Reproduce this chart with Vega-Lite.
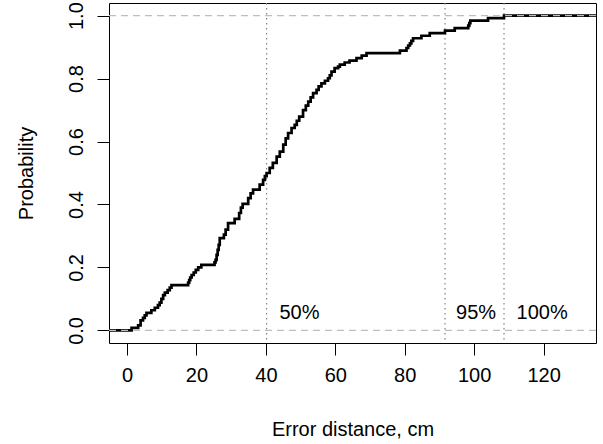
{
  "$schema": "https://vega.github.io/schema/vega-lite/v6.json",
  "width": 487,
  "height": 340,
  "autosize": {"type": "none"},
  "padding": {"left": 109, "top": 3, "right": 7, "bottom": 101},
  "background": "white",
  "config": {
    "view": {"stroke": "black", "strokeWidth": 1},
    "font": "Liberation Sans",
    "axis": {
      "grid": false,
      "domain": false,
      "tickColor": "black",
      "tickSize": 12,
      "tickWidth": 1,
      "labelColor": "black",
      "labelFontSize": 20,
      "labelFont": "Liberation Sans",
      "titleFont": "Liberation Sans",
      "titleFontSize": 20,
      "titleFontWeight": "normal",
      "titleColor": "black",
      "labelFlush": false,
      "labelOverlap": false
    }
  },
  "datasets": {
    "ecdf": [
      {"d": -10, "p": 0},
      {"d": 1.3, "p": 0.008},
      {"d": 3.2, "p": 0.016},
      {"d": 3.9, "p": 0.032},
      {"d": 4.6, "p": 0.04},
      {"d": 5.1, "p": 0.048},
      {"d": 5.6, "p": 0.056},
      {"d": 7.0, "p": 0.064},
      {"d": 8.0, "p": 0.072},
      {"d": 8.9, "p": 0.08},
      {"d": 9.4, "p": 0.088},
      {"d": 9.9, "p": 0.1},
      {"d": 10.4, "p": 0.112},
      {"d": 10.9, "p": 0.12},
      {"d": 11.7, "p": 0.128},
      {"d": 12.3, "p": 0.136},
      {"d": 12.8, "p": 0.144},
      {"d": 17.6, "p": 0.152},
      {"d": 17.9, "p": 0.16},
      {"d": 18.2, "p": 0.168},
      {"d": 18.6, "p": 0.176},
      {"d": 19.2, "p": 0.184},
      {"d": 19.8, "p": 0.192},
      {"d": 20.5, "p": 0.2},
      {"d": 21.4, "p": 0.208},
      {"d": 25.2, "p": 0.216},
      {"d": 25.5, "p": 0.224},
      {"d": 25.8, "p": 0.24},
      {"d": 26.1, "p": 0.256},
      {"d": 26.4, "p": 0.272},
      {"d": 26.7, "p": 0.293},
      {"d": 27.9, "p": 0.304},
      {"d": 28.4, "p": 0.32},
      {"d": 29.1, "p": 0.341},
      {"d": 31.0, "p": 0.354},
      {"d": 32.3, "p": 0.373},
      {"d": 32.8, "p": 0.39},
      {"d": 33.3, "p": 0.402},
      {"d": 34.9, "p": 0.42},
      {"d": 35.6, "p": 0.435},
      {"d": 36.3, "p": 0.447},
      {"d": 38.2, "p": 0.463},
      {"d": 39.2, "p": 0.478},
      {"d": 39.7, "p": 0.49},
      {"d": 40.2, "p": 0.5},
      {"d": 41.1, "p": 0.516},
      {"d": 42.0, "p": 0.532},
      {"d": 43.1, "p": 0.552},
      {"d": 44.0, "p": 0.568},
      {"d": 45.0, "p": 0.59},
      {"d": 45.7, "p": 0.61},
      {"d": 46.4, "p": 0.627},
      {"d": 47.4, "p": 0.643},
      {"d": 48.3, "p": 0.653},
      {"d": 48.9, "p": 0.666},
      {"d": 49.6, "p": 0.679},
      {"d": 50.7, "p": 0.7},
      {"d": 51.5, "p": 0.714},
      {"d": 52.2, "p": 0.727},
      {"d": 52.9, "p": 0.74},
      {"d": 53.6, "p": 0.754},
      {"d": 54.6, "p": 0.764},
      {"d": 55.2, "p": 0.775},
      {"d": 56.0, "p": 0.785},
      {"d": 57.0, "p": 0.793},
      {"d": 57.9, "p": 0.801},
      {"d": 58.4, "p": 0.81},
      {"d": 58.9, "p": 0.822},
      {"d": 59.8, "p": 0.833},
      {"d": 60.8, "p": 0.838},
      {"d": 61.3, "p": 0.844},
      {"d": 62.7, "p": 0.851},
      {"d": 64.1, "p": 0.857},
      {"d": 66.1, "p": 0.865},
      {"d": 67.6, "p": 0.873},
      {"d": 69.0, "p": 0.881},
      {"d": 78.6, "p": 0.889},
      {"d": 80.5, "p": 0.897},
      {"d": 81.0, "p": 0.905},
      {"d": 81.5, "p": 0.912},
      {"d": 81.9, "p": 0.92},
      {"d": 82.4, "p": 0.928},
      {"d": 84.8, "p": 0.936},
      {"d": 87.2, "p": 0.944},
      {"d": 91.6, "p": 0.952},
      {"d": 94.4, "p": 0.96},
      {"d": 98.3, "p": 0.968},
      {"d": 98.6, "p": 0.976},
      {"d": 98.9, "p": 0.984},
      {"d": 104.0, "p": 0.992},
      {"d": 108.6, "p": 1.0},
      {"d": 145, "p": 1.0}
    ],
    "hlines": [{"p": 0}, {"p": 1}],
    "vlines": [{"d": 40.2}, {"d": 91.6}, {"d": 108.6}],
    "labels": [
      {"d": 43.9, "p": 0.056, "label": "50%"},
      {"d": 94.8, "p": 0.056, "label": "95%"},
      {"d": 112.2, "p": 0.056, "label": "100%"}
    ]
  },
  "layer": [
    {
      "data": {"name": "vlines"},
      "mark": {"type": "rule", "color": "#808080", "strokeWidth": 1.2, "strokeDash": [1.6, 3.4]},
      "encoding": {
        "x": {"field": "d", "type": "quantitative"}
      }
    },
    {
      "data": {"name": "ecdf"},
      "mark": {"type": "line", "interpolate": "step-after", "color": "black", "strokeWidth": 2.7, "clip": true},
      "encoding": {
        "x": {
          "field": "d",
          "type": "quantitative",
          "scale": {"domain": [-5.2, 135.1], "nice": false, "zero": false},
          "axis": {
            "values": [0, 20, 40, 60, 80, 100, 120],
            "title": "Error distance, cm",
            "labelPadding": 20,
            "labelBaseline": "middle",
            "titleY": 86,
            "titleBaseline": "middle"
          }
        },
        "y": {
          "field": "p",
          "type": "quantitative",
          "scale": {"domain": [-0.04, 1.04], "nice": false, "zero": false},
          "axis": {
            "values": [0, 0.2, 0.4, 0.6, 0.8, 1.0],
            "format": ".1f",
            "title": "Probability",
            "labelAngle": -90,
            "labelAlign": "center",
            "labelBaseline": "middle",
            "labelPadding": 21,
            "titleX": -83,
            "titleBaseline": "middle",
            "titleAngle": -90
          }
        }
      }
    },
    {
      "data": {"name": "hlines"},
      "mark": {"type": "rule", "color": "#bebebe", "strokeWidth": 1.4, "strokeDash": [7, 5]},
      "encoding": {
        "y": {"field": "p", "type": "quantitative"}
      }
    },
    {
      "data": {"name": "labels"},
      "mark": {"type": "text", "align": "left", "baseline": "middle", "fontSize": 20, "font": "Liberation Sans", "color": "black"},
      "encoding": {
        "x": {"field": "d", "type": "quantitative"},
        "y": {"field": "p", "type": "quantitative"},
        "text": {"field": "label"}
      }
    }
  ]
}
